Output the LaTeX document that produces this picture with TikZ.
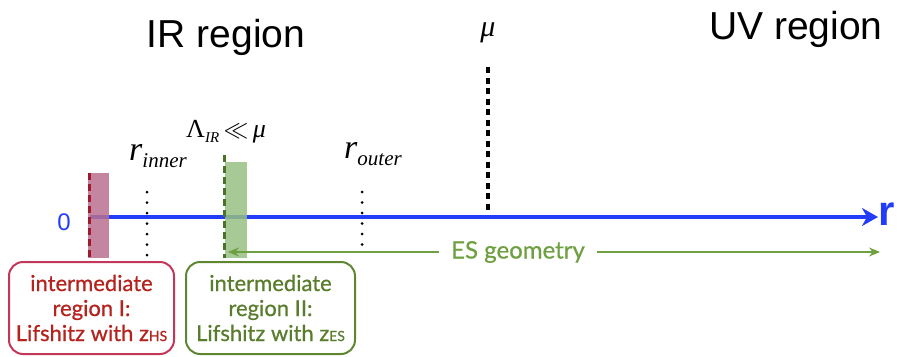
\documentclass[tikz,border=0pt]{standalone}
\usepackage{fontspec}
\newfontfamily\hel{Liberation Sans}
\newfontfamily\gill[FakeBold=0.7]{Lato}
\newfontfamily\tms{Liberation Serif}
\usetikzlibrary{arrows.meta}
\definecolor{axisblue}{RGB}{35,60,250}
\definecolor{barred}{RGB}{186,112,143}
\definecolor{dashred}{RGB}{160,25,45}
\definecolor{boxred}{RGB}{195,55,90}
\definecolor{txtred}{RGB}{180,35,30}
\definecolor{bargreen}{RGB}{150,192,130}
\definecolor{dashgreen}{RGB}{75,115,40}
\definecolor{boxgreen}{RGB}{95,135,50}
\definecolor{txtgreen}{RGB}{90,125,45}
\definecolor{esgreen}{RGB}{110,160,65}
\tikzset{
  bigsans/.style={font=\hel\fontsize{39}{39}\selectfont},
  regionbox/.style={draw, line width=2pt, rounded corners=14pt, minimum width=165pt, minimum height=92pt, align=center, font=\gill\fontsize{22}{25}\selectfont, inner sep=2pt},
  dotline/.style={line width=3pt, line cap=round, dash pattern=on 0pt off 10.5pt},
  barfill/.style={opacity=0.85, draw=none},
}
\begin{document}
\begin{tikzpicture}[x=1pt,y=-1pt]
\useasboundingbox (0,0) rectangle (899,356);
% titles
\node[bigsans, anchor=base] (ir) at (226,47) {IR region};
\node[bigsans, anchor=base] (uv) at (796,39) {UV region};
\node[anchor=base, font=\tms\itshape\fontsize{30}{30}\selectfont] (mu) at (488,36) {μ};
% axis
\coordinate (o) at (90,217);
\node[anchor=west, text=axisblue, font=\hel\bfseries\fontsize{42}{42}\selectfont, inner sep=0pt] (r) at (878,214) {r};
\draw[axisblue, line width=4.5pt, -{Stealth[length=16pt,width=18pt,inset=5pt]}] (o) -- (o -| r.west);
\node[text=axisblue, font=\hel\fontsize{24}{24}\selectfont] (zero) at (64,222) {0};
% mu dashed
\coordinate (mutop) at (488,67);
\coordinate (mubot) at (488,212);
\draw[black, line width=3.5pt, dash pattern=on 6pt off 4.5pt] (mutop) -- (mubot);
% bars
\fill[barred, barfill] (88,173) rectangle (109,258);
\coordinate (rt) at (89,173);
\coordinate (rb) at (89,258);
\draw[dashred, line width=3pt, dash pattern=on 7pt off 4pt] (rt) -- (rb);
\fill[bargreen, barfill] (225,162) rectangle (247,258);
\coordinate (gt) at (224,155);
\coordinate (gb) at (224,258);
\draw[dashgreen, line width=3pt, dash pattern=on 7pt off 4pt] (gt) -- (gb);
% r inner / outer
\node[anchor=base west, inner sep=0pt, font=\tms\itshape\fontsize{34}{34}\selectfont] (rin) at (129,160) {r\raisebox{-7pt}{\fontsize{21}{21}\selectfont inner}};
\coordinate (rint) at (147,192);
\coordinate (rinb) at (147,256);
\draw[dotline] (rint) -- (rinb);
\node[anchor=base west, inner sep=0pt, font=\tms\itshape\fontsize{34}{34}\selectfont] (rout) at (344,158) {r\raisebox{-7pt}{\fontsize{21}{21}\selectfont outer}};
\coordinate (routt) at (362,192);
\coordinate (routb) at (362,245);
\draw[dotline] (routt) -- (routb);
% Lambda label
\node[anchor=base, inner sep=0pt, font=\tms\fontsize{26}{26}\selectfont] (lam) at (226,137) {Λ\raisebox{-5pt}{\itshape\fontsize{15}{15}\selectfont IR}\,$\fontsize{26}{26}\selectfont\ll$\,{\itshape μ}};
% ES geometry
\node[text=esgreen, font=\gill\fontsize{24}{24}\selectfont, inner xsep=12pt] (es) at (518,252) {ES geometry};
\coordinate (esl) at (228,252);
\coordinate (esr) at (880,252);
\draw[esgreen, line width=1.5pt, -{Stealth[length=11pt,width=9pt]}] (es.west) -- (esl);
\draw[esgreen, line width=1.5pt, -{Stealth[length=11pt,width=9pt]}] (es.east) -- (esr);
% boxes
\node[regionbox, draw=boxred, text=txtred] (box1) at (91.5,308) {intermediate\\region I:\\Lifshitz with z{\fontsize{14}{14}\selectfont HS}};
\node[regionbox, draw=boxgreen, text=txtgreen, minimum width=169pt] (box2) at (270.5,308) {intermediate\\region II:\\Lifshitz with z{\fontsize{14}{14}\selectfont ES}};
\end{tikzpicture}
\end{document}
